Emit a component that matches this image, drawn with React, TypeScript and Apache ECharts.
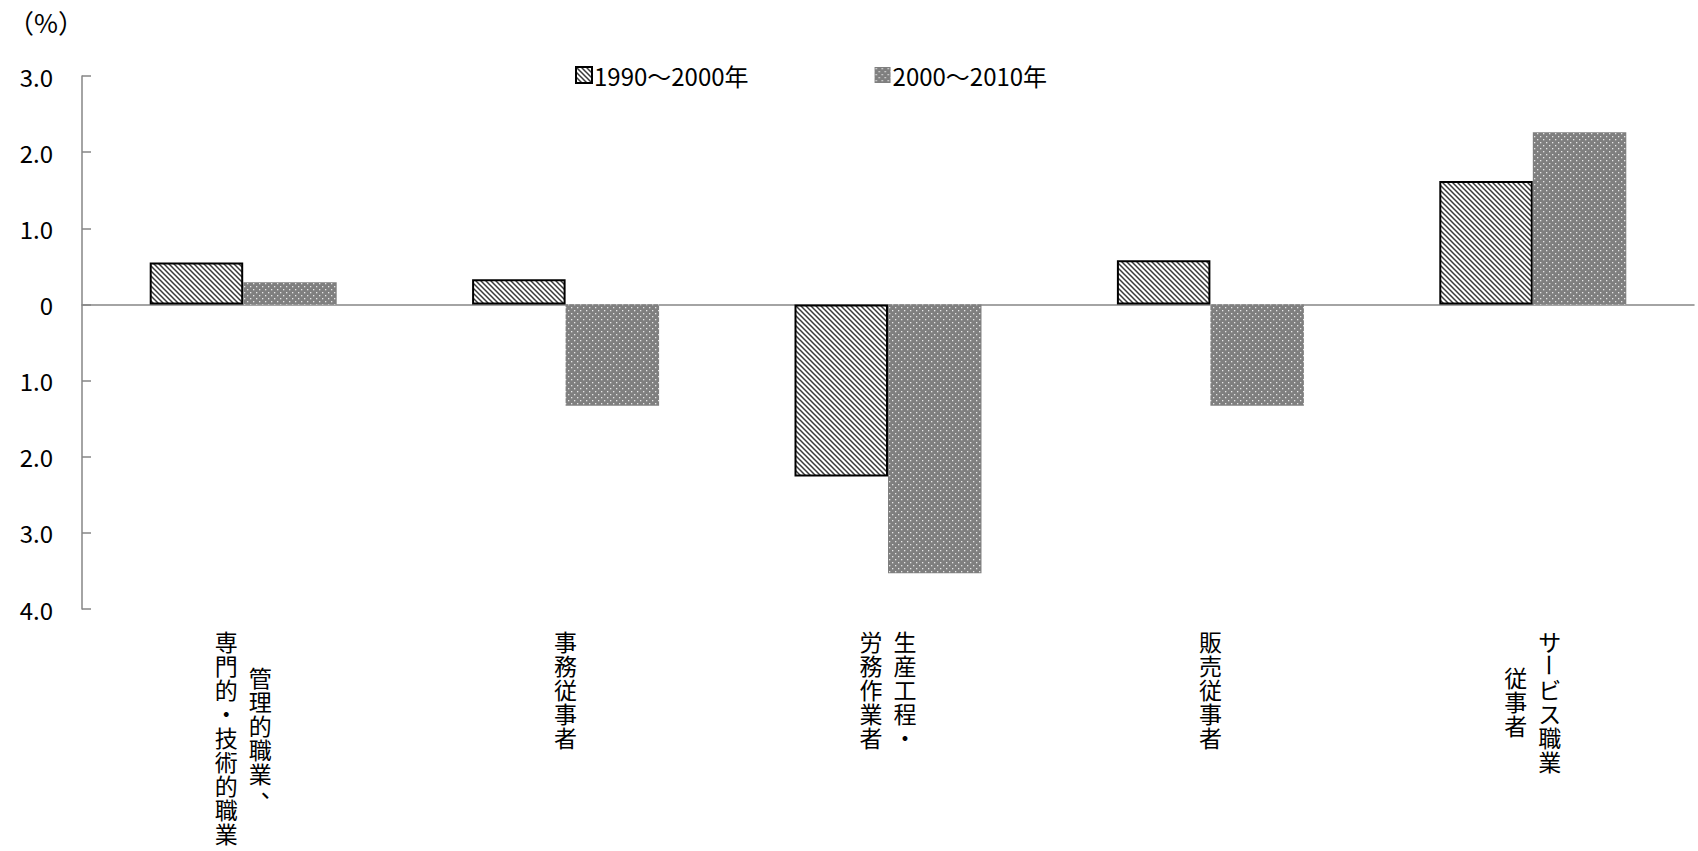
import React, { useEffect, useRef } from "react";
import * as echarts from "echarts";

const categories = [
  "管理的職業、専門的・技術的職業",
  "事務従事者",
  "生産工程・労務作業者",
  "販売従事者",
  "サービス職業従事者",
];
// vertical label columns, listed right-to-left
const labelColumns = [
  ["管理的職業、", "専門的・技術的職業"],
  ["事務従事者"],
  ["生産工程・", "労務作業者"],
  ["販売従事者"],
  ["サービス職業", "従事者"],
];
const seriesNames = ["1990～2000年", "2000～2010年"];
const values1990 = [0.55, 0.33, -2.26, 0.58, 1.62];
const values2000 = [0.29, -1.33, -3.53, -1.33, 2.26];
const yTicks = { min: -4, max: 3, interval: 1 };

const FONT = '"Noto Sans CJK JP", "Noto Sans", sans-serif';

function makeHatch() {
  const s = 5;
  const c = document.createElement("canvas");
  c.width = s;
  c.height = s;
  const g = c.getContext("2d")!;
  g.fillStyle = "#ffffff";
  g.fillRect(0, 0, s, s);
  g.strokeStyle = "#3a3a3a";
  g.lineWidth = 1.5;
  g.beginPath();
  g.moveTo(-1, -1);
  g.lineTo(s + 1, s + 1);
  g.moveTo(-1, s - 1);
  g.lineTo(1, s + 1);
  g.moveTo(s - 1, -1);
  g.lineTo(s + 1, 1);
  g.stroke();
  return c;
}

function makeDots() {
  const s = 6;
  const c = document.createElement("canvas");
  c.width = s;
  c.height = s;
  const g = c.getContext("2d")!;
  g.fillStyle = "#7f7f7f";
  g.fillRect(0, 0, s, s);
  g.fillStyle = "#e6e6e6";
  g.fillRect(1, 1, 1.3, 1.3);
  g.fillRect(4, 4, 1.3, 1.3);
  return c;
}

export default function App() {
  const ref = useRef<HTMLDivElement>(null);
  useEffect(() => {
    if (!ref.current) return;
    const chart = echarts.init(ref.current, null, { renderer: "svg" });
    const hatch = { image: makeHatch(), repeat: "repeat" };
    const dots = { image: makeDots(), repeat: "repeat" };
    const pitch = 24;
    const colGap = 34;
    const option: any = {
      animation: false,
      graphic: [
        {
          type: "text",
          left: 8,
          top: 8,
          style: { text: "（%）", fontSize: 26, fontFamily: FONT, fill: "#000" },
        },
      ],
      legend: {
        data: seriesNames,
        left: 570,
        top: 58,
        itemWidth: 16,
        itemHeight: 16,
        itemGap: 126,
        icon: "rect",
        textStyle: { fontSize: 24, fontFamily: FONT, color: "#000", padding: [0, 0, 0, -3] },
      },
      grid: { left: 82, right: 4, top: 76, bottom: 242, containLabel: false },
      xAxis: {
        type: "category",
        data: categories,
        axisLine: { onZero: true, lineStyle: { color: "#868686", width: 1.5 } },
        axisTick: { show: false },
        axisLabel: { show: false },
        splitLine: { show: false },
      },
      yAxis: {
        type: "value",
        min: yTicks.min,
        max: yTicks.max,
        interval: yTicks.interval,
        axisLine: { show: true, lineStyle: { color: "#868686", width: 1.5 } },
        axisTick: { show: true, inside: true, length: 9, lineStyle: { color: "#868686", width: 1.5 } },
        splitLine: { show: false },
        axisLabel: {
          margin: 29,
          fontSize: 24,
          fontFamily: FONT,
          color: "#000",
          formatter: (v: number) => (v === 0 ? "0" : Math.abs(v).toFixed(1)),
        },
      },
      series: [
        {
          name: seriesNames[0],
          type: "bar",
          data: values1990,
          barGap: "0%",
          barCategoryGap: "42%",
          itemStyle: { color: hatch, borderColor: "#000", borderWidth: 2 },
        },
        {
          name: seriesNames[1],
          type: "bar",
          data: values2000,
          itemStyle: { color: dots, borderWidth: 0 },
        },
        {
          name: "labels",
          type: "custom",
          coordinateSystem: "cartesian2d",
          silent: true,
          clip: false,
          encode: { x: 0, y: 1 },
          data: categories.map((_, i) => [i, yTicks.min]),
          renderItem: (params: any, api: any) => {
            const idx = api.value(0);
            const pt = api.coord([idx, yTicks.min]);
            const cols = labelColumns[idx];
            const maxLen = Math.max(...cols.map((c) => [...c].length));
            const children: any[] = [];
            const n = cols.length;
            cols.forEach((col, j) => {
              const chars = [...col];
              const x = pt[0] + ((n - 1) / 2 - j) * colGap;
              const offset = ((maxLen - chars.length) * pitch) / 2;
              chars.forEach((ch, k) => {
                const y = pt[1] + 20 + offset + k * pitch + pitch / 2;
                const isBar = ch === "ー";
                const isComma = ch === "、";
                children.push({
                  type: "text",
                  x: isComma ? x + 12 : x,
                  y: isComma ? y - 10 : y,
                  rotation: isBar ? -Math.PI / 2 : 0,
                  style: {
                    text: ch,
                    fontSize: 23,
                    fontFamily: FONT,
                    lineHeight: isComma ? 12 : pitch - 1,
                    fill: "#000",
                    align: "center",
                    verticalAlign: "middle",
                  },
                });
              });
            });
            return { type: "group", children };
          },
          z: 10,
        },
      ],
    };
    chart.setOption(option);
    return () => chart.dispose();
  }, []);
  return (
    <div
      ref={ref}
      style={{ position: "fixed", left: 0, top: 0, width: "1698px", height: "851px", background: "#fff" }}
    />
  );
}
